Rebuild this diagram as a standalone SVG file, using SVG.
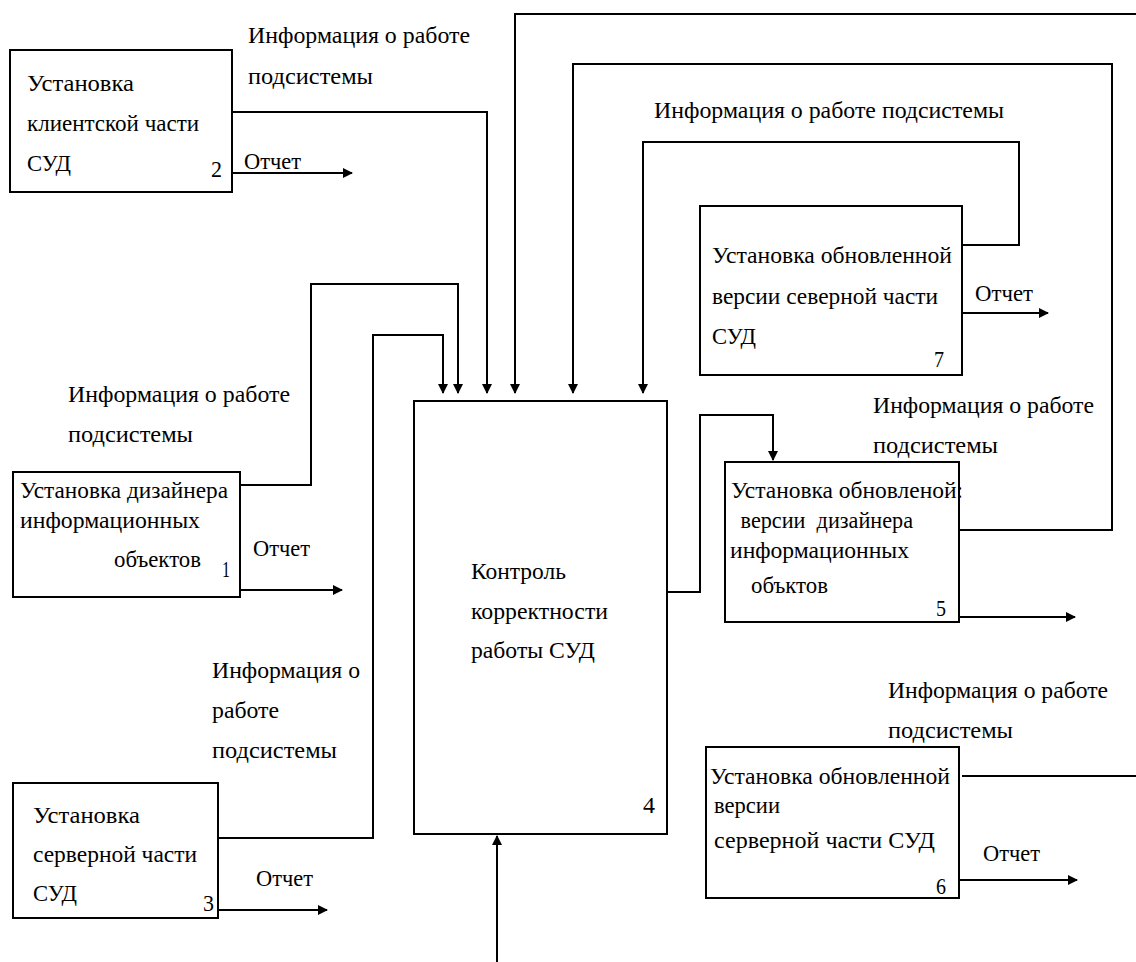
<svg xmlns="http://www.w3.org/2000/svg" width="1136" height="962" viewBox="0 0 1136 962">
<style>
.box{fill:#fff;stroke:#000;stroke-width:2}
.ln{fill:none;stroke:#000;stroke-width:2}
.ar{fill:none;stroke:#000;stroke-width:2;marker-end:url(#ah)}
text{font-family:"Liberation Serif","Times New Roman",serif;font-size:24px;fill:#000}
</style>
<defs>
<marker id="ah" viewBox="0 0 10 10" refX="9" refY="5" markerWidth="5" markerHeight="5" orient="auto" markerUnits="strokeWidth">
<path d="M0,0 L10,5 L0,10 z" fill="#000"/>
</marker>
</defs>
<rect width="1136" height="962" fill="#fff"/>
<g id="connectors">
<polyline class="ar" points="232,112 487,112 487,393"/>
<polyline class="ar" points="240,485 311,485 311,284 458,284 458,393"/>
<polyline class="ar" points="218,838 373,838 373,335 443,335 443,393"/>
<polyline class="ar" points="1136,14 515,14 515,393"/>
<polyline class="ar" points="959,530 1112,530 1112,64 573,64 573,393"/>
<polyline class="ar" points="962,245 1019,245 1019,142 643,142 643,393"/>
<polyline class="ar" points="667,592 700,592 700,415 773,415 773,460"/>
<polyline class="ln" points="962,776 1136,776"/>
<polyline class="ar" points="497,962 497,836"/>
<polyline class="ar" points="232,173 352,173"/>
<polyline class="ar" points="240,590 342,590"/>
<polyline class="ar" points="218,910 327,910"/>
<polyline class="ar" points="962,313 1048,313"/>
<polyline class="ar" points="959,617 1075,617"/>
<polyline class="ar" points="959,880 1077,880"/>
</g>
<g id="labels">
<text x="248" y="43" textLength="222" lengthAdjust="spacingAndGlyphs">Информация о работе</text>
<text x="248" y="84" textLength="125" lengthAdjust="spacingAndGlyphs">подсистемы</text>
<text x="244" y="169" textLength="57" lengthAdjust="spacingAndGlyphs">Отчет</text>
<text x="654" y="118" textLength="350" lengthAdjust="spacingAndGlyphs">Информация о работе подсистемы</text>
<text x="975" y="301" textLength="58" lengthAdjust="spacingAndGlyphs">Отчет</text>
<text x="873" y="413" textLength="221" lengthAdjust="spacingAndGlyphs">Информация о работе</text>
<text x="873" y="453" textLength="125" lengthAdjust="spacingAndGlyphs">подсистемы</text>
<text x="68" y="402" textLength="222" lengthAdjust="spacingAndGlyphs">Информация о работе</text>
<text x="68" y="442" textLength="125" lengthAdjust="spacingAndGlyphs">подсистемы</text>
<text x="253" y="556" textLength="57" lengthAdjust="spacingAndGlyphs">Отчет</text>
<text x="212" y="678" textLength="148" lengthAdjust="spacingAndGlyphs">Информация о</text>
<text x="212" y="718" textLength="67" lengthAdjust="spacingAndGlyphs">работе</text>
<text x="212" y="758" textLength="125" lengthAdjust="spacingAndGlyphs">подсистемы</text>
<text x="256" y="886" textLength="57" lengthAdjust="spacingAndGlyphs">Отчет</text>
<text x="888" y="698" textLength="220" lengthAdjust="spacingAndGlyphs">Информация о работе</text>
<text x="888" y="738" textLength="125" lengthAdjust="spacingAndGlyphs">подсистемы</text>
<text x="983" y="861" textLength="57" lengthAdjust="spacingAndGlyphs">Отчет</text>
</g>
<g id="node2">
<rect class="box" x="10" y="50" width="222" height="142"/>
<text x="27" y="91" textLength="107" lengthAdjust="spacingAndGlyphs">Установка</text>
<text x="27" y="131" textLength="172" lengthAdjust="spacingAndGlyphs">клиентской части</text>
<text x="27" y="171" textLength="44" lengthAdjust="spacingAndGlyphs">СУД</text>
<text x="211" y="177" textLength="11" lengthAdjust="spacingAndGlyphs">2</text>
</g>
<g id="node1">
<rect class="box" x="13" y="472" width="227" height="125"/>
<text x="20" y="498" textLength="208" lengthAdjust="spacingAndGlyphs">Установка дизайнера</text>
<text x="20" y="528" textLength="180" lengthAdjust="spacingAndGlyphs">информационных</text>
<text x="114" y="567" textLength="87" lengthAdjust="spacingAndGlyphs">объектов</text>
<text x="222" y="577" textLength="8" lengthAdjust="spacingAndGlyphs">1</text>
</g>
<g id="node3">
<rect class="box" x="13" y="783" width="205" height="135"/>
<text x="33" y="823" textLength="107" lengthAdjust="spacingAndGlyphs">Установка</text>
<text x="33" y="862" textLength="164" lengthAdjust="spacingAndGlyphs">серверной части</text>
<text x="33" y="901" textLength="44" lengthAdjust="spacingAndGlyphs">СУД</text>
<text x="203" y="911" textLength="11" lengthAdjust="spacingAndGlyphs">3</text>
</g>
<g id="node4">
<rect class="box" x="414" y="401" width="253" height="433"/>
<text x="471" y="579" textLength="95" lengthAdjust="spacingAndGlyphs">Контроль</text>
<text x="471" y="619" textLength="137" lengthAdjust="spacingAndGlyphs">корректности</text>
<text x="471" y="658" textLength="124" lengthAdjust="spacingAndGlyphs">работы СУД</text>
<text x="643" y="813" textLength="12" lengthAdjust="spacingAndGlyphs">4</text>
</g>
<g id="node7">
<rect class="box" x="700" y="206" width="262" height="169"/>
<text x="712" y="263" textLength="240" lengthAdjust="spacingAndGlyphs">Установка обновленной</text>
<text x="712" y="304" textLength="226" lengthAdjust="spacingAndGlyphs">версии северной части</text>
<text x="712" y="344" textLength="44" lengthAdjust="spacingAndGlyphs">СУД</text>
<text x="934" y="367" textLength="10" lengthAdjust="spacingAndGlyphs">7</text>
</g>
<g id="node5">
<rect class="box" x="725" y="462" width="234" height="160"/>
<text x="731" y="498" textLength="232" lengthAdjust="spacingAndGlyphs">Установка обновленой:</text>
<text x="735" y="528" textLength="178" lengthAdjust="spacingAndGlyphs" xml:space="preserve"> версии  дизайнера</text>
<text x="730" y="558" textLength="179" lengthAdjust="spacingAndGlyphs">информационных</text>
<text x="751" y="593" textLength="77" lengthAdjust="spacingAndGlyphs">объктов</text>
<text x="936" y="616" textLength="10" lengthAdjust="spacingAndGlyphs">5</text>
</g>
<g id="node6">
<rect class="box" x="706" y="747" width="253" height="151"/>
<text x="710" y="784" textLength="240" lengthAdjust="spacingAndGlyphs">Установка обновленной</text>
<text x="714" y="813" textLength="66" lengthAdjust="spacingAndGlyphs">версии</text>
<text x="714" y="848" textLength="221" lengthAdjust="spacingAndGlyphs">серверной части СУД</text>
<text x="936" y="894" textLength="10" lengthAdjust="spacingAndGlyphs">6</text>
</g>
</svg>
